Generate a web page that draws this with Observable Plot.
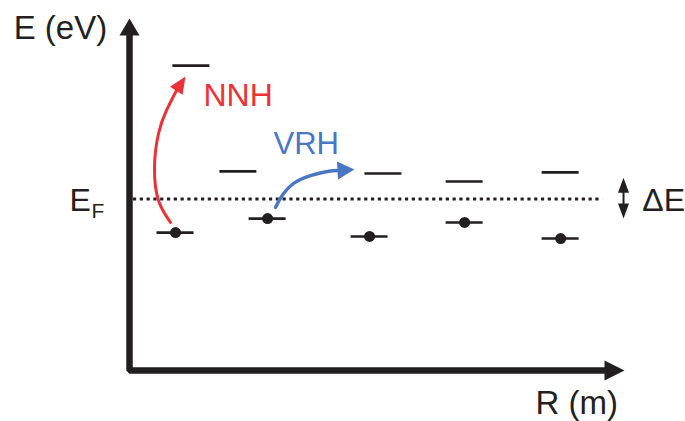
<!DOCTYPE html>
<html>
<head>
<meta charset="utf-8">
<script src="https://cdn.jsdelivr.net/npm/d3@7"></script>
<script src="https://cdn.jsdelivr.net/npm/@observablehq/plot@0.6"></script>
<style>
  html, body { margin: 0; padding: 0; background: #ffffff; }
  svg { display: block; }
</style>
</head>
<body>
<div id="chart"></div>
<script>
// ---------- data (schematic units: R along x, E along y, E_F = 0) ----------
const occR = [9.3, 27.9, 48.5, 67.7, 87.1];          // occupied sites: position
const occE = [-9.6, -5.6, -10.7, -6.7, -11.3];        // occupied sites: energy (below E_F)
const emptyR = [12.5, 22.0, 51.3, 67.7, 87.1];        // empty sites: position
const emptyE = [38.1, 7.9, 7.3, 5.0, 7.6];            // empty sites: energy (above E_F)
const fermiE = 0;
const fermiR = [0.8, 95.6];                            // extent of the E_F line
const deltaR = 99.8;
const deltaE = [6.1, -5.6];                            // ΔE band edges
const nnhR = [8.28, 5.86, 5.05, 5.86, 7.47, 9.49, 11.31];   // NNH hop path
const nnhE = [-6.71, -0.43, 9.0, 18.71, 25.29, 31.0, 35.0];
const vrhR = [29.49, 30.71, 33.13, 36.57, 40.0, 42.02, 45.45]; // VRH hop path
const vrhE = [-2.43, 0.71, 4.43, 6.71, 7.86, 8.14, 8.43];
const originR = 0, originE = -49, axisEndR = 100, axisEndE = 51.6;
const xDomain = [0, 100], yDomain = [-49, 51];
const labels = ["E (eV)", "R (m)", "NNH", "VRH", "ΔE", "E", "F"];
const labelR = [-23.4, 82.0, 14.95, 29.09, 103.6, -12.12, -7.7];
const labelE = [45.6, -61.57, 26.43, 13.0, -3.29, -3.29, -5.57];

// ---------- layout / style ----------
const W = 685, H = 421;
const mL = 129, mR = 61, mT = 20, mB = 51;
const kx = (W - mL - mR) / (xDomain[1] - xDomain[0]);
const ky = (H - mT - mB) / (yDomain[1] - yDomain[0]);
const ink = "#231f20", red = "#ec3237", blue = "#4977c4";
const font = "'Liberation Sans', Arial, Helvetica, sans-serif";
const halfLevel = 18.5 / kx;

// filled arrowhead symbol, tip at origin; angle in degrees clockwise from "up"
function head(L, Wd, angle) {
  const a = angle * Math.PI / 180;
  const dx = Math.sin(a), dy = -Math.cos(a);
  const px = Math.cos(a), py = Math.sin(a);
  return {
    draw(ctx) {
      const bx = -L * dx, by = -L * dy;
      ctx.moveTo(0, 0);
      ctx.lineTo(bx + px * Wd / 2, by + py * Wd / 2);
      ctx.lineTo(bx - px * Wd / 2, by - py * Wd / 2);
      ctx.closePath();
    }
  };
}
function angleOf(R, E) {
  const n = R.length;
  const dxp = (R[n - 1] - R[n - 2]) * kx;
  const dyp = -(E[n - 1] - E[n - 2]) * ky;
  return Math.atan2(dxp, -dyp) * 180 / Math.PI;
}

const occ = occR.map((r, i) => ({r, e: occE[i]}));
const empty = emptyR.map((r, i) => ({r, e: emptyE[i]}));
const nnh = nnhR.map((r, i) => ({r, e: nnhE[i]}));
const vrh = vrhR.map((r, i) => ({r, e: vrhE[i]}));
const lab = labels.map((t, i) => ({t, r: labelR[i], e: labelE[i]}));

const yHeadL = 17, xHeadL = 20;
const axisPts = [
  {r: originR, e: axisEndE - (yHeadL - 1) / ky},
  {r: originR, e: originE},
  {r: axisEndR - (xHeadL - 1) / kx, e: originE}
];
const dHeadL = 15;

const txt = (i, opts) => Plot.text([lab[i]], {
  x: "r", y: "e", text: "t", textAnchor: "start", lineAnchor: "bottom",
  fontSize: 32, fill: ink, ...opts
});

const chart = Plot.plot({
  width: W, height: H,
  marginLeft: mL, marginRight: mR, marginTop: mT, marginBottom: mB,
  x: {domain: xDomain, axis: null},
  y: {domain: yDomain, axis: null},
  style: {fontFamily: font, background: "#ffffff", overflow: "visible"},
  marks: [
    // axes
    Plot.line(axisPts, {x: "r", y: "e", stroke: ink, strokeWidth: 6.5, strokeLinejoin: "miter", strokeLinecap: "butt"}),
    Plot.dot([{r: originR, e: axisEndE}], {x: "r", y: "e", r: 1, symbol: head(yHeadL, 20, 0), fill: ink, stroke: "none"}),
    Plot.dot([{r: axisEndR, e: originE}], {x: "r", y: "e", r: 1, symbol: head(xHeadL, 20, 90), fill: ink, stroke: "none"}),
    // Fermi level
    Plot.ruleY([fermiE], {x1: fermiR[0], x2: fermiR[1], stroke: ink, strokeWidth: 3, strokeDasharray: "3.2,3.6"}),
    // empty levels
    Plot.ruleY(empty, {y: "e", x1: d => d.r - halfLevel, x2: d => d.r + halfLevel, stroke: ink, strokeWidth: 2.6}),
    // occupied levels + electrons
    Plot.ruleY(occ, {y: "e", x1: d => d.r - halfLevel, x2: d => d.r + halfLevel, stroke: ink, strokeWidth: 2.6}),
    Plot.dot(occ, {x: "r", y: "e", r: 5.5, fill: ink, stroke: "none"}),
    // NNH hop
    Plot.line(nnh.slice(0, -1), {x: "r", y: "e", curve: "natural", stroke: red, strokeWidth: 3}),
    Plot.dot([nnh[nnh.length - 1]], {x: "r", y: "e", r: 1, symbol: head(17, 15, angleOf(nnhR, nnhE)), fill: red, stroke: "none"}),
    // VRH hop
    Plot.line(vrh.slice(0, -1), {x: "r", y: "e", curve: "natural", stroke: blue, strokeWidth: 3.4}),
    Plot.dot([vrh[vrh.length - 1]], {x: "r", y: "e", r: 1, symbol: head(17, 18, angleOf(vrhR, vrhE)), fill: blue, stroke: "none"}),
    // ΔE double arrow
    Plot.ruleX([deltaR], {y1: deltaE[0] - (dHeadL - 2) / ky, y2: deltaE[1] + (dHeadL - 2) / ky, stroke: ink, strokeWidth: 2}),
    Plot.dot([{r: deltaR, e: deltaE[0]}], {x: "r", y: "e", r: 1, symbol: head(dHeadL, 11, 0), fill: ink, stroke: "none"}),
    Plot.dot([{r: deltaR, e: deltaE[1]}], {x: "r", y: "e", r: 1, symbol: head(dHeadL, 11, 180), fill: ink, stroke: "none"}),
    // labels
    txt(0, {fontSize: 33}),
    txt(1, {fontSize: 33}),
    txt(2, {fill: red}),
    txt(3, {fill: blue, fontSize: 31}),
    txt(4, {}),
    txt(5, {}),
    txt(6, {fontSize: 21})
  ]
});
document.getElementById("chart").appendChild(chart);
</script>
</body>
</html>
